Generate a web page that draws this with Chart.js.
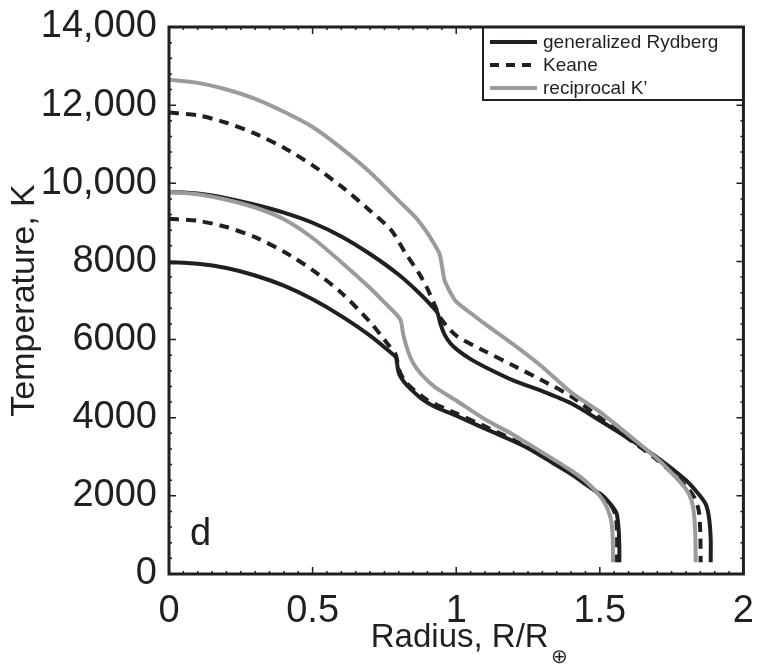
<!DOCTYPE html>
<html>
<head>
<meta charset="utf-8">
<script src="https://cdn.jsdelivr.net/npm/chart.js@4.4.1/dist/chart.umd.min.js"></script>
<style>
  html, body { margin: 0; padding: 0; background: #fff; }
  canvas { display: block; }
</style>
</head>
<body>
<canvas id="chart" width="761" height="667"></canvas>
<script>
// Eixos
const xTicks = [0, 0.5, 1, 1.5, 2];
const xTickLabels = ['0', '0.5', '1', '1.5', '2'];
const yTicks = [0, 2000, 4000, 6000, 8000, 10000, 12000, 14000];
const yTickLabels = ['0', '2000', '4000', '6000', '8000', '10,000', '12,000', '14,000'];

// generalized Rydberg (preto, contínuo)
const rydLowR = [0, 0.1, 0.2, 0.3, 0.4, 0.5, 0.6, 0.7, 0.78, 0.79, 0.8, 0.82, 0.845, 0.88, 0.925, 1.0, 1.1, 1.166, 1.25, 1.339, 1.4, 1.45, 1.512, 1.54, 1.558, 1.565, 1.568, 1.568];
const rydLowT = [7980, 7940, 7830, 7640, 7380, 7030, 6600, 6100, 5620, 5550, 5150, 4900, 4710, 4480, 4280, 4050, 3720, 3510, 3220, 2830, 2560, 2300, 1980, 1760, 1560, 1200, 700, 300];
const rydUpR = [0, 0.1, 0.2, 0.3, 0.4, 0.5, 0.6, 0.7, 0.8, 0.87, 0.92, 0.935, 0.945, 0.96, 0.98, 1.005, 1.05, 1.1, 1.2, 1.3, 1.4, 1.5, 1.6, 1.7, 1.8, 1.84, 1.868, 1.88, 1.886, 1.886];
const rydUpT = [9780, 9740, 9620, 9450, 9250, 8990, 8640, 8190, 7660, 7200, 6820, 6680, 6400, 6120, 5900, 5730, 5500, 5300, 4950, 4680, 4370, 3930, 3470, 2980, 2400, 2080, 1800, 1450, 900, 300];

// Keane (preto, tracejado)
const keaLowR = [0, 0.1, 0.2, 0.3, 0.4, 0.5, 0.6, 0.7, 0.76, 0.79, 0.8, 0.82, 0.85, 0.9, 1.0, 1.1, 1.2, 1.3, 1.4, 1.45, 1.51, 1.54, 1.555, 1.56, 1.56];
const keaLowT = [9090, 9040, 8880, 8620, 8250, 7780, 7200, 6450, 5900, 5600, 5250, 4950, 4730, 4450, 4110, 3780, 3430, 3020, 2590, 2330, 2000, 1750, 1500, 1000, 300];
const keaUpR = [0, 0.1, 0.2, 0.3, 0.4, 0.5, 0.6, 0.7, 0.774, 0.82, 0.87, 0.9, 0.93, 0.95, 1.0, 1.1, 1.2, 1.3, 1.4, 1.5, 1.6, 1.7, 1.8, 1.83, 1.845, 1.85, 1.851];
const keaUpT = [11810, 11740, 11550, 11270, 10910, 10460, 9920, 9300, 8800, 8250, 7700, 7300, 6800, 6500, 6100, 5700, 5330, 4950, 4550, 4000, 3460, 2920, 2250, 1950, 1600, 1000, 300];

// reciprocal K' (cinza)
const recLowR = [0, 0.1, 0.2, 0.3, 0.4, 0.5, 0.6, 0.7, 0.75, 0.805, 0.815, 0.83, 0.85, 0.88, 0.925, 1.0, 1.1, 1.2, 1.3, 1.4, 1.45, 1.5, 1.525, 1.54, 1.545, 1.546];
const recLowT = [9780, 9720, 9580, 9380, 9080, 8600, 7980, 7320, 6950, 6520, 6150, 5750, 5400, 5100, 4790, 4440, 3960, 3560, 3110, 2650, 2380, 2000, 1700, 1350, 900, 300];
const recUpR = [0, 0.1, 0.2, 0.3, 0.4, 0.5, 0.6, 0.7, 0.8, 0.87, 0.94, 0.95, 0.96, 0.98, 1.0, 1.05, 1.1, 1.2, 1.3, 1.4, 1.5, 1.6, 1.7, 1.78, 1.81, 1.825, 1.832, 1.834];
const recUpT = [12650, 12570, 12400, 12160, 11830, 11440, 10900, 10280, 9550, 9030, 8230, 7900, 7500, 7200, 6970, 6680, 6400, 5870, 5300, 4650, 4150, 3560, 2950, 2350, 2050, 1700, 1100, 300];

const BLACK = '#231f20';
const GRAY = '#9b9b9b';
const FONT = "'Liberation Sans', Arial, Helvetica, sans-serif";

const pts = (r, t) => r.map((v, i) => ({ x: v, y: t[i] }));

function serie(label, r, t, color, dash) {
    return {
        label: label,
        data: pts(r, t),
        borderColor: color,
        borderWidth: 4,
        borderDash: dash,
        pointRadius: 0,
        tension: 0.25,
        fill: false
    };
}

// Ordem: o primeiro dataset fica por cima
const datasets = [
    serie("reciprocal K'", recUpR, recUpT, GRAY, []),
    serie("reciprocal K'", recLowR, recLowT, GRAY, []),
    serie('Keane', keaUpR, keaUpT, BLACK, [10, 7]),
    serie('Keane', keaLowR, keaLowT, BLACK, [10, 7]),
    serie('generalized Rydberg', rydUpR, rydUpT, BLACK, []),
    serie('generalized Rydberg', rydLowR, rydLowT, BLACK, [])
];

const legendItems = [
    { text: 'generalized Rydberg', ds: 4 },
    { text: 'Keane', ds: 2 },
    { text: "reciprocal K\u2019", ds: 0 }
];

// Moldura, ticks internos, legenda, rótulo "d" e título do eixo x
const decor = {
    id: 'decor',
    afterDatasetsDraw(chart) {
        const { ctx, chartArea: a, scales: { x, y } } = chart;
        ctx.save();
        ctx.strokeStyle = BLACK;
        ctx.lineWidth = 1.5;
        ctx.beginPath();
        for (let i = 0; i <= 40; i++) {
            const px = x.getPixelForValue(i * 0.05);
            const len = i % 10 === 0 ? 7 : 3;
            ctx.moveTo(px, a.bottom); ctx.lineTo(px, a.bottom - len);
            ctx.moveTo(px, a.top); ctx.lineTo(px, a.top + len);
        }
        for (let i = 0; i <= 35; i++) {
            const py = y.getPixelForValue(i * 400);
            const len = i % 5 === 0 ? 7 : 3;
            ctx.moveTo(a.left, py); ctx.lineTo(a.left + len, py);
            ctx.moveTo(a.right, py); ctx.lineTo(a.right - len, py);
        }
        ctx.stroke();

        // legenda
        const lx = 483, ly = a.top, lw = a.right - 483, lh = 73;
        ctx.fillStyle = '#fff';
        ctx.fillRect(lx, ly, lw, lh);
        ctx.lineWidth = 2;
        ctx.strokeRect(lx, ly, lw, lh);
        ctx.font = '19px ' + FONT;
        ctx.textBaseline = 'middle';
        ctx.textAlign = 'left';
        legendItems.forEach((it, k) => {
            const ds = chart.data.datasets[it.ds];
            const yy = 42 + k * 23;
            ctx.beginPath();
            ctx.strokeStyle = ds.borderColor;
            ctx.lineWidth = 4;
            ctx.setLineDash(ds.borderDash.length ? [9, 7] : []);
            ctx.moveTo(490, yy); ctx.lineTo(537, yy);
            ctx.stroke();
            ctx.setLineDash([]);
            ctx.fillStyle = BLACK;
            ctx.fillText(it.text, 543, yy + 1);
        });

        // moldura
        ctx.strokeStyle = BLACK;
        ctx.lineWidth = 3;
        ctx.strokeRect(a.left, a.top, a.right - a.left, a.bottom - a.top);

        // rótulo do painel
        ctx.fillStyle = BLACK;
        ctx.font = '38px ' + FONT;
        ctx.textBaseline = 'alphabetic';
        ctx.fillText('d', 190, 545);

        // título do eixo x com subscrito
        const main = 'Radius, R/R';
        const sub = '\u2295';
        ctx.font = '33px ' + FONT;
        const w1 = ctx.measureText(main).width;
        ctx.font = '20px ' + FONT;
        const w2 = ctx.measureText(sub).width;
        const x0 = (a.left + a.right) / 2 + 12 - (w1 + w2) / 2;
        ctx.font = '33px ' + FONT;
        ctx.fillText(main, x0, 647);
        ctx.font = '20px ' + FONT;
        ctx.fillText(sub, x0 + w1 + 2, 663);
        ctx.restore();
    }
};

const ctx = document.getElementById('chart').getContext('2d');
const chart = new Chart(ctx, {
    type: 'line',
    data: { datasets: datasets },
    options: {
        responsive: false,
        animation: false,
        devicePixelRatio: 1,
        layout: { padding: { top: 27, right: 13, left: 0, bottom: 0 } },
        plugins: {
            legend: { display: false },
            tooltip: { enabled: false }
        },
        scales: {
            x: {
                type: 'linear',
                min: 0,
                max: 2,
                afterFit: s => { s.height = 93; },
                afterBuildTicks: s => { s.ticks = xTicks.map(v => ({ value: v })); },
                grid: { display: false },
                border: { display: false },
                ticks: {
                    autoSkip: false,
                    maxRotation: 0,
                    padding: 7,
                    color: BLACK,
                    font: { family: FONT, size: 38 },
                    callback: (v, i) => xTickLabels[i]
                }
            },
            y: {
                type: 'linear',
                min: 0,
                max: 14000,
                afterFit: s => { s.width = 169; },
                afterBuildTicks: s => { s.ticks = yTicks.map(v => ({ value: v })); },
                grid: { display: false },
                border: { display: false },
                title: {
                    display: true,
                    text: 'Temperature, K',
                    color: BLACK,
                    font: { family: FONT, size: 34 },
                    padding: { top: 4, bottom: 0 }
                },
                ticks: {
                    autoSkip: false,
                    padding: 4,
                    color: BLACK,
                    font: { family: FONT, size: 38 },
                    callback: (v, i) => yTickLabels[i]
                }
            }
        }
    },
    plugins: [decor]
});
</script>
</body>
</html>
